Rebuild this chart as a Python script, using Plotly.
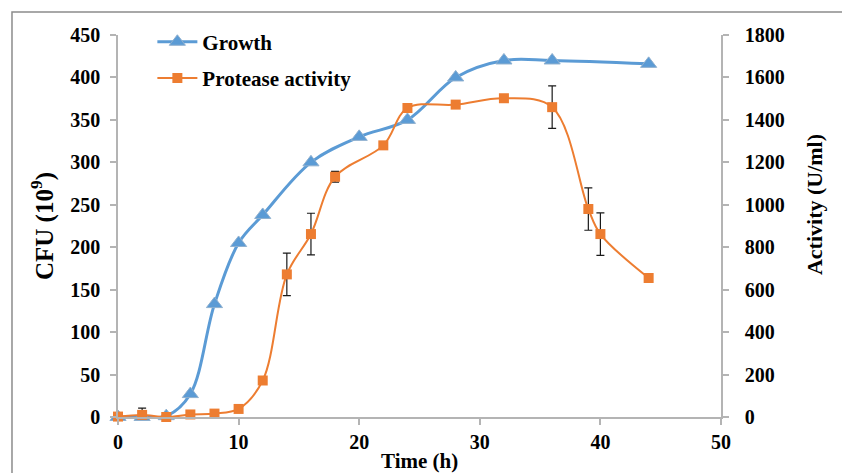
import plotly.graph_objects as go

# Data
growth_time = [0, 2, 4, 6, 8, 10, 12, 16, 20, 24, 28, 32, 36, 44]
growth_cfu = [0, 0, 1, 27, 133, 205, 238, 300, 330, 350, 400, 420, 420, 416]

prot_time = [0, 2, 4, 6, 8, 10, 12, 14, 16, 18, 22, 24, 28, 32, 36, 39, 40, 44]
prot_act = [2, 10, 0, 12, 16, 38, 172, 672, 862, 1132, 1280, 1456, 1472, 1502, 1460, 980, 862, 655]
prot_err = [0, 32, 0, 0, 0, 0, 0, 100, 98, 25, 18, 8, 8, 8, 100, 100, 100, 18]

x_ticks = [0, 10, 20, 30, 40, 50]
y1_ticks = [0, 50, 100, 150, 200, 250, 300, 350, 400, 450]
y2_ticks = [0, 200, 400, 600, 800, 1000, 1200, 1400, 1600, 1800]

FONT = "Liberation Serif"
AXIS_GRAY = "#b4b4b4"
BLUE = "#5B9BD5"
ORANGE = "#ED7D31"

fig = go.Figure()
fig.add_trace(go.Scatter(
    x=growth_time, y=growth_cfu, name="Growth", mode="lines+markers",
    line=dict(color=BLUE, width=3, shape="spline", smoothing=1),
    marker=dict(symbol="triangle-up", size=14, color=BLUE,
                line=dict(color="#8fb0cf", width=1)),
    cliponaxis=False, legendgroup="g", yaxis="y"))
fig.add_trace(go.Scatter(
    x=prot_time, y=prot_act, name="Protease activity", mode="lines+markers",
    line=dict(color=ORANGE, width=2, shape="spline", smoothing=1),
    marker=dict(symbol="square", size=10, color=ORANGE),
    error_y=dict(type="data", array=prot_err, visible=True,
                 color="#1a1a1a", thickness=1.2, width=4),
    cliponaxis=False, legendgroup="p", yaxis="y2"))

tick_font = dict(family=FONT, size=20, color="black", weight="bold")

axis_common = dict(
    showline=True, linecolor=AXIS_GRAY, linewidth=1.5,
    ticks="outside", ticklen=6, tickcolor=AXIS_GRAY, tickwidth=1.5,
    showgrid=False, zeroline=False,
)

fig.update_layout(
    width=842, height=473,
    margin=dict(l=118, r=121, t=35, b=56),
    paper_bgcolor="white", plot_bgcolor="white",
    font=dict(family=FONT, size=20, color="black", weight="bold"),
    xaxis=dict(range=[0, 50], tickvals=x_ticks, tickfont=tick_font, **axis_common),
    yaxis=dict(range=[0, 450], tickvals=y1_ticks, ticklabelstandoff=6,
               tickfont=tick_font, **axis_common),
    yaxis2=dict(range=[0, 1800], tickvals=y2_ticks, overlaying="y", side="right",
                ticklabelstandoff=12, tickfont=tick_font, **axis_common),
    showlegend=True,
    legend=dict(x=0.057, y=1.035, xanchor="left", yanchor="top",
                bgcolor="rgba(0,0,0,0)", traceorder="grouped", tracegroupgap=6,
                font=dict(family=FONT, size=21, color="black", weight="bold"),
                itemwidth=40),
    annotations=[
        dict(text="CFU (10<sup>9</sup>)", xref="paper", yref="paper",
             x=-0.126, y=0.5, xanchor="center", yanchor="middle",
             textangle=-90, showarrow=False,
             font=dict(family=FONT, size=25, color="black", weight="bold")),
        dict(text="Activity (U/ml)", xref="paper", yref="paper",
             x=1.156, y=0.555, xanchor="center", yanchor="middle",
             textangle=-90, showarrow=False,
             font=dict(family=FONT, size=22, color="black", weight="bold")),
        dict(text="Time (h)", xref="paper", yref="paper",
             x=0.5, y=-0.115, xanchor="center", yanchor="middle", showarrow=False,
             font=dict(family=FONT, size=21, color="black", weight="bold")),
    ],
    shapes=[
        dict(type="rect", xref="paper", yref="paper",
             x0=-0.1758, y0=-1.0, x1=2.0, y1=1.0602,
             line=dict(color="#8c8c8c", width=1.5), fillcolor="rgba(0,0,0,0)",
             layer="below"),
    ],
)

fig.write_html("out.html")
